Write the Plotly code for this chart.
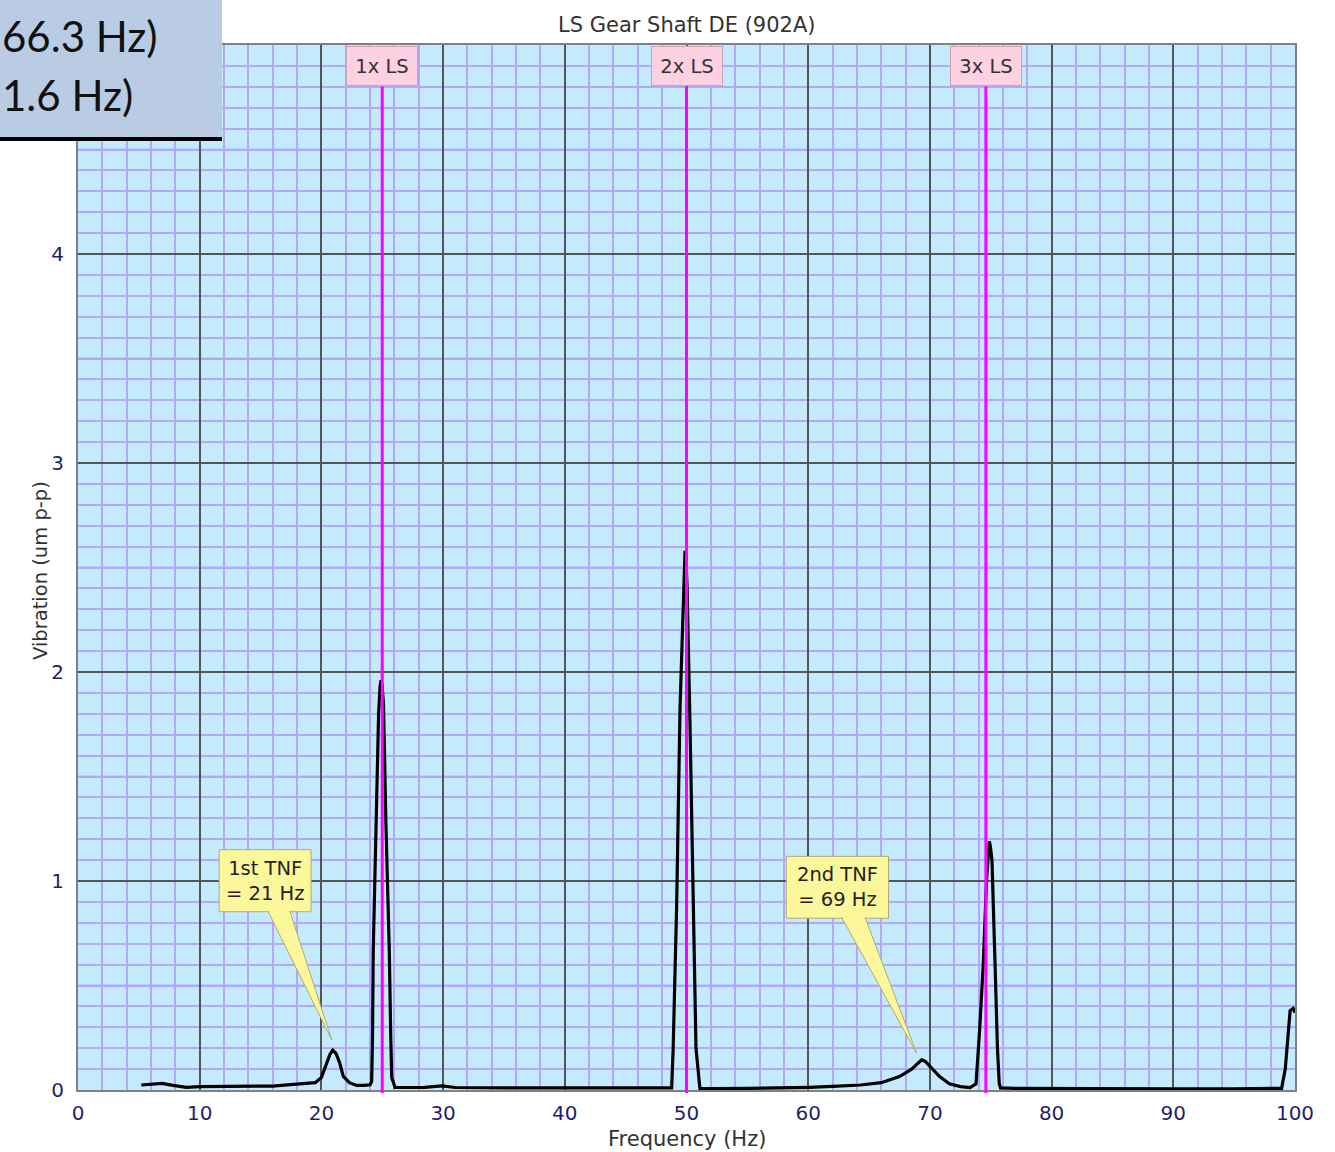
import plotly.graph_objects as go

# ---------------- data ----------------
freq_hz = [5.2, 6.0, 6.9, 7.8, 8.9, 10.0, 12.0, 14.0, 16.0, 17.7, 19.0, 19.5, 20.0, 20.4, 20.7,
           20.93, 21.2, 21.5, 21.8, 22.3, 22.9, 23.5, 24.0, 24.13, 24.2, 24.26, 24.5, 24.7, 24.82,
           24.9, 24.98, 25.1, 25.3, 25.45, 25.58, 25.7, 25.78, 26.05, 27.0, 28.5, 29.9, 31.0,
           35.0, 40.0, 45.0, 48.0, 48.78, 48.9, 49.19, 49.47, 49.7, 49.82, 49.88, 49.95, 50.05,
           50.28, 50.56, 50.78, 51.1, 52.0, 55.0, 58.0, 60.1, 62.0, 64.3, 66.0, 67.5, 68.5, 69.0,
           69.32, 69.6, 70.0, 70.8, 71.6, 72.5, 73.3, 73.79, 74.1, 74.39, 74.65, 74.8, 74.88,
           74.96, 75.1, 75.35, 75.55, 75.7, 75.8, 77.0, 80.0, 85.0, 90.0, 95.0, 98.9, 99.2, 99.6,
           99.85, 100.0]
vib_um = [0.024, 0.026, 0.032, 0.022, 0.013, 0.016, 0.016, 0.017, 0.019, 0.027, 0.03, 0.035, 0.06,
          0.12, 0.17, 0.19, 0.175, 0.13, 0.065, 0.035, 0.022, 0.022, 0.025, 0.04, 0.25, 0.67, 1.37,
          1.8, 1.93, 1.96, 1.94, 1.85, 1.28, 0.95, 0.66, 0.25, 0.06, 0.012, 0.012, 0.013, 0.02,
          0.012, 0.01, 0.009, 0.008, 0.008, 0.01, 0.19, 0.88, 1.83, 2.3, 2.55, 2.58, 2.56, 2.4,
          1.77, 0.88, 0.2, 0.008, 0.007, 0.008, 0.01, 0.013, 0.017, 0.024, 0.035, 0.064, 0.1,
          0.125, 0.144, 0.138, 0.115, 0.064, 0.03, 0.016, 0.012, 0.03, 0.3, 0.61, 1.0, 1.16, 1.19,
          1.17, 1.1, 0.61, 0.2, 0.03, 0.01, 0.008, 0.007, 0.006, 0.006, 0.006, 0.008, 0.1, 0.38,
          0.39, 0.37]

marker_labels = ["1x LS", "2x LS", "3x LS"]
marker_freqs = [25.0, 50.0, 74.6]

x_ticks = [0, 10, 20, 30, 40, 50, 60, 70, 80, 90, 100]
y_ticks = [0, 1, 2, 3, 4]
half_lines = [0.5, 1.5, 2.5, 3.5, 4.5]

callout_texts = ["1st TNF<br>= 21 Hz", "2nd TNF<br>= 69 Hz"]
# box (x0, x1, y0, y1), pointer base (xl, xr), tip (x, y)
callout_boxes = [(11.6, 19.15, 0.853, 1.15), (58.2, 66.6, 0.822, 1.118)]
callout_bases = [(15.6, 17.4), (62.75, 64.67)]
callout_tips = [(20.85, 0.24), (68.9, 0.177)]

title_text = "LS Gear Shaft DE (902A)"
x_title = "Frequency (Hz)"
y_title = "Vibration (um p-p)"
corner_lines = ["66.3 Hz)", "1.6 Hz)"]

# ---------------- figure ----------------
W, H = 1335, 1152
L, R, T, B = 78, 40, 45, 62
pw, ph = W - L - R, H - T - B

def px_to_paper_x(px):
    return (px - L) / pw

def py_to_paper_y(py):
    return 1 - (py - T) / ph

FONT = "DejaVu Sans, Verdana, sans-serif"
TICK_COLOR = "#1f1f6a"
TEXT_COLOR = "#333333"

fig = go.Figure()
fig.add_trace(go.Scatter(x=freq_hz, y=vib_um, mode="lines",
                         line=dict(color="black", width=3.2), hoverinfo="skip",
                         showlegend=False))

shapes = []
annotations = []

# 0.5 blue grid lines
for v in half_lines:
    shapes.append(dict(type="line", xref="paper", yref="y", x0=0, x1=1, y0=v, y1=v,
                       line=dict(color="#8585f5", width=1.5), layer="between"))

# harmonic marker lines and labels
label_top_px = 46.5
label_bottom_px = 86.5
for lab, f in zip(marker_labels, marker_freqs):
    shapes.append(dict(type="line", xref="x", yref="paper", x0=f, x1=f,
                       y0=py_to_paper_y(1093), y1=py_to_paper_y(label_bottom_px),
                       line=dict(color="#ff00ff", width=3), layer="above"))
    annotations.append(dict(x=f, xref="x", y=py_to_paper_y(label_top_px), yref="paper",
                            xanchor="center", yanchor="top", text=lab, showarrow=False,
                            width=68, height=36, bgcolor="#fdd0e2", bordercolor="#c9a3b3",
                            borderwidth=1, borderpad=1,
                            font=dict(family=FONT, size=19.5, color=TEXT_COLOR)))

# callouts
for txt, (x0, x1, y0, y1), (bl, br), (tx, ty) in zip(callout_texts, callout_boxes,
                                                      callout_bases, callout_tips):
    shapes.append(dict(type="rect", xref="x", yref="y", x0=x0, x1=x1, y0=y0, y1=y1,
                       fillcolor="#fdf79c", line=dict(color="#b0aa70", width=1), layer="above"))
    shapes.append(dict(type="path", xref="x", yref="y",
                       path=f"M {bl},{y0 + 0.004} L {tx},{ty} L {br},{y0 + 0.004}",
                       fillcolor="#fdf79c", line=dict(color="#b0aa70", width=1), layer="above"))
    annotations.append(dict(x=(x0 + x1) / 2, y=(y0 + y1) / 2, xref="x", yref="y",
                            text=txt, showarrow=False, xanchor="center", yanchor="middle",
                            font=dict(family=FONT, size=19.5, color="#222222")))

# top-left corner box
shapes.append(dict(type="rect", xref="paper", yref="paper",
                   x0=px_to_paper_x(-2), x1=px_to_paper_x(222),
                   y0=py_to_paper_y(139), y1=py_to_paper_y(-2),
                   fillcolor="#b9cce4", line=dict(width=0), layer="above"))
shapes.append(dict(type="line", xref="paper", yref="paper",
                   x0=px_to_paper_x(-2), x1=px_to_paper_x(222),
                   y0=py_to_paper_y(139), y1=py_to_paper_y(139),
                   line=dict(color="black", width=4), layer="above"))
for i, t in enumerate(corner_lines):
    annotations.append(dict(x=px_to_paper_x(0), y=py_to_paper_y(36 + 59 * i),
                            xref="paper", yref="paper", xanchor="left", yanchor="middle",
                            text=t, showarrow=False,
                            font=dict(family="Lato, Open Sans, sans-serif", size=42,
                                      color="#111111")))

# title
annotations.append(dict(x=0.5, y=py_to_paper_y(25), xref="paper", yref="paper",
                        xanchor="center", yanchor="middle", text=title_text, showarrow=False,
                        font=dict(family=FONT, size=21, color=TEXT_COLOR)))
# axis titles
annotations.append(dict(x=0.5, y=py_to_paper_y(1139), xref="paper", yref="paper",
                        xanchor="center", yanchor="middle", text=x_title, showarrow=False,
                        font=dict(family=FONT, size=21, color=TEXT_COLOR)))
annotations.append(dict(x=px_to_paper_x(40), y=py_to_paper_y(571), xref="paper", yref="paper",
                        xanchor="center", yanchor="middle", text=y_title, showarrow=False,
                        textangle=-90,
                        font=dict(family=FONT, size=19.5, color=TEXT_COLOR)))

fig.update_layout(
    width=W, height=H,
    margin=dict(l=L, r=R, t=T, b=B, pad=0),
    paper_bgcolor="white",
    plot_bgcolor="#c4ebfd",
    shapes=shapes,
    annotations=annotations,
    showlegend=False,
    xaxis=dict(range=[0, 100], tickvals=x_ticks, ticktext=[str(v) for v in x_ticks],
               showgrid=True, gridcolor="#555555", gridwidth=1.5,
               minor=dict(dtick=2, showgrid=True, gridcolor="#b4a6fb", gridwidth=1.5),
               showline=True, linecolor="#808080", linewidth=2, mirror=True,
               ticks="", ticklabelstandoff=4, zeroline=False,
               tickfont=dict(family=FONT, size=20, color=TICK_COLOR)),
    yaxis=dict(range=[0, 5], tickvals=y_ticks, ticktext=[str(v) for v in y_ticks],
               showgrid=True, gridcolor="#555555", gridwidth=1.5,
               minor=dict(dtick=0.1, showgrid=True, gridcolor="#b4a6fb", gridwidth=1.5),
               showline=True, linecolor="#808080", linewidth=2, mirror=True,
               ticks="", ticklabelstandoff=8, zeroline=False,
               tickfont=dict(family=FONT, size=20, color=TICK_COLOR)),
)

fig.write_html("out.html")
